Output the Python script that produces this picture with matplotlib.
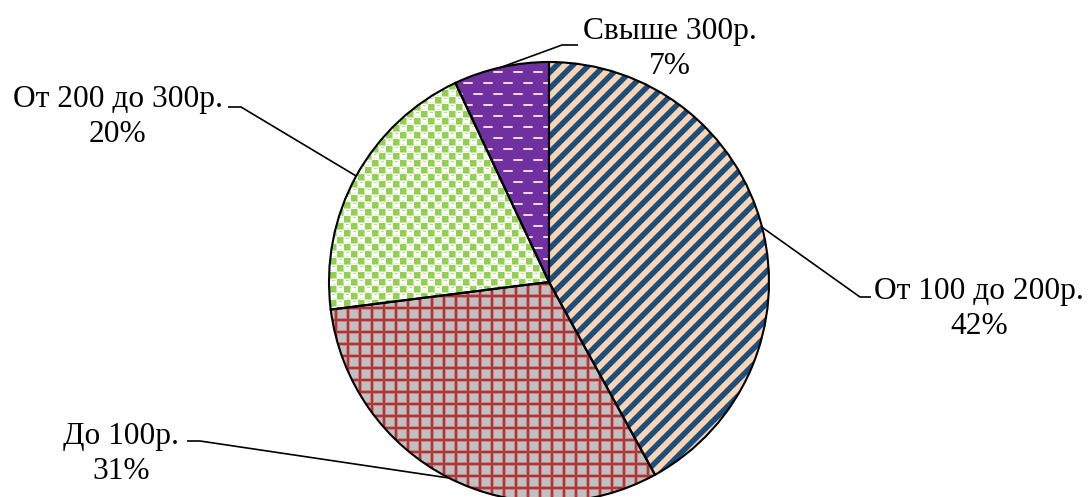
import numpy as np
import matplotlib
matplotlib.use("Agg")
import matplotlib.pyplot as plt

# price groups and their shares, %
categories = ["От 100 до 200р.", "До 100р.", "От 200 до 300р.", "Свыше 300р."]
shares = [42, 31, 20, 7]

W, H = 1089, 497
CX, CY, R = 549, 282, 220          # pie centre / radius in pixels


def px(x, y):
    """pixel position -> data coords (1 data unit = pie radius)"""
    return (x - CX) / R, (CY - y) / R


def hexrgb(h):
    h = h.lstrip("#")
    return np.array([int(h[k:k + 2], 16) for k in (0, 2, 4)]) / 255.0


N = int(2.06 * R)
ii, jj = np.mgrid[0:N, 0:N]


def tex_stripes():
    t = np.empty((N, N, 3))
    t[:] = hexrgb("#fcd5b4")
    v = (ii + jj) % 16
    t[v < 7] = hexrgb("#1f4e79")
    t[(v == 7) | (v == 15)] = hexrgb("#8e9eaa")
    return t


def tex_grid():
    t = np.empty((N, N, 3))
    t[:] = hexrgb("#c0c0c0")
    a, b = ii % 12, jj % 12
    t[(a == 11) | (a == 2) | (b == 11) | (b == 2)] = hexrgb("#c98383")
    t[(a < 2) | (b < 2)] = hexrgb("#a8383b")
    return t


def tex_checker():
    t = np.ones((N, N, 3))
    ci, cj = ii // 7, jj // 7
    a, b = ii % 7, jj % 7
    green = (ci + cj) % 2 == 0
    t[green] = hexrgb("#92d050")
    t[green & ((a == 6) | (b == 6))] = hexrgb("#c4e5a2")
    # faint ring fragments in the white cells
    t[~green & (a == 1) & (b >= 2) & (b <= 4)] = hexrgb("#b8df90")
    t[~green & (a == 5) & (b >= 1) & (b <= 5)] = hexrgb("#e2f2d2")
    return t


def tex_dashes():
    t = np.empty((N, N, 3))
    t[:] = hexrgb("#7030a0")
    k = ii // 11
    row = ii % 11
    d = (jj + 10 * (k % 2)) % 20
    on = (row >= 5) & (row <= 6)
    t[on & (d < 10)] = hexrgb("#c9a3d3")
    t[on & (d >= 1) & (d < 9)] = hexrgb("#ecd6ec")
    return t


textures = [tex_stripes(), tex_grid(), tex_checker(), tex_dashes()]

# leader elbow / text placement in pixels: (elbow_x, elbow_y, end_x, text_x, text_y)
label_layout = [
    (860, 297, 871, 979, 309),
    (200, 441, 187, 121, 454),
    (241, 107, 228, 118, 117),
    (562, 45, 578, 670, 49),
]

fig = plt.figure(figsize=(W / 100, H / 100), dpi=100)
ax = fig.add_axes([0, 0, 1, 1])

wedges, _ = ax.pie(shares, startangle=90, counterclock=False, radius=1,
                   wedgeprops=dict(edgecolor="black", linewidth=1.5, facecolor="none"))

half = N / 2 / R
for w, tex in zip(wedges, textures):
    w.set_zorder(3)
    im = ax.imshow(tex, extent=(-half, half, -half, half), interpolation="nearest", zorder=1)
    im.set_clip_path(w)

for w, name, share, (ex, ey, hx, tx, ty) in zip(wedges, categories, shares, label_layout):
    ang = np.deg2rad((w.theta1 + w.theta2) / 2)
    x0, y0 = np.cos(ang), np.sin(ang)
    x1, y1 = px(ex, ey)
    x2, _ = px(hx, ey)
    ax.plot([x0, x1, x2], [y0, y1, y1], color="black", lw=1.2, zorder=4,
            solid_capstyle="butt")
    lx, ly = px(tx, ty)
    ax.text(lx, ly, f"{name}\n{share}%", ha="center", va="center",
            fontfamily="Liberation Serif", fontsize=22.6, linespacing=1.28, zorder=5)

ax.set_xlim(-CX / R, (W - CX) / R)
ax.set_ylim((CY - H) / R, CY / R)
ax.set_aspect("equal")
ax.axis("off")

fig.savefig("out.png", dpi=100)
